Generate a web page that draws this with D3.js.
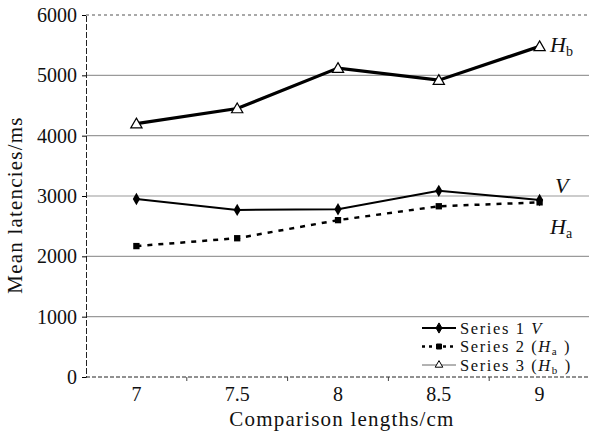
<!DOCTYPE html>
<html>
<head>
<meta charset="utf-8">
<script src="https://cdn.jsdelivr.net/npm/d3@7"></script>
<style>
  body { margin: 0; background: #fff; }
  text { font-family: "Times New Roman", "Liberation Serif", Tinos, serif; fill: #111; }
</style>
</head>
<body>
<div id="graph"></div>
<script>
// data
var lengths = ["7", "7.5", "8", "8.5", "9"];
var seriesV  = [2950, 2770, 2780, 3085, 2935];
var seriesHa = [2170, 2300, 2600, 2830, 2895];
var seriesHb = [4200, 4450, 5120, 4920, 5480];
var yTicks = [0, 1000, 2000, 3000, 4000, 5000, 6000];

var width = 589, height = 436;
var plotLeft = 86, plotRight = 590, plotTop = 15, plotBottom = 377;
var serif = '"Times New Roman", "Liberation Serif", Tinos, serif';

var svg = d3.select("#graph")
  .append("svg")
    .attr("width", width)
    .attr("height", height);

var x = d3.scalePoint()
  .domain(lengths)
  .range([plotLeft, plotRight])
  .padding(0.5);

var y = d3.scaleLinear()
  .domain([0, 6000])
  .range([plotBottom, plotTop]);

// grid lines
svg.selectAll(".grid")
  .data(yTicks.filter(function(d) { return d > 0; }))
  .enter()
  .append("line")
    .attr("x1", plotLeft)
    .attr("x2", plotRight)
    .attr("y1", function(d) { return y(d); })
    .attr("y2", function(d) { return y(d); })
    .style("stroke", function(d) { return d == 6000 ? "#555" : "#9a9a9a"; })
    .style("stroke-width", 1.2)
    .style("stroke-dasharray", function(d) { return d == 6000 ? "3,3" : null; });

// y axis
var yAxis = svg.append("g")
  .attr("transform", "translate(" + plotLeft + ",0)")
  .call(d3.axisLeft(y).tickValues(yTicks).tickSize(4).tickPadding(5).tickFormat(d3.format("d")));
yAxis.attr("font-family", serif);
yAxis.select(".domain").style("stroke", "#222").style("stroke-dasharray", "6,2");
yAxis.selectAll("text")
  .style("font-size", "20px")
  .style("font-family", serif)
  .style("fill", "#111");

// x axis, ticks at the category boundaries
svg.append("line")
  .attr("x1", plotLeft).attr("x2", plotRight)
  .attr("y1", plotBottom).attr("y2", plotBottom)
  .style("stroke", "#222")
  .style("stroke-dasharray", "4,2");
var step = x.step();
svg.selectAll(".xtick")
  .data(lengths.slice(0, -1))
  .enter()
  .append("line")
    .attr("x1", function(d) { return x(d) + step / 2; })
    .attr("x2", function(d) { return x(d) + step / 2; })
    .attr("y1", plotBottom)
    .attr("y2", plotBottom + 4)
    .style("stroke", "#444");
svg.selectAll(".xlabel")
  .data(lengths)
  .enter()
  .append("text")
    .attr("x", function(d) { return x(d); })
    .attr("y", 401)
    .attr("text-anchor", "middle")
    .style("font-size", "20px")
    .text(function(d) { return d; });

// axis titles
svg.append("text")
  .attr("x", 342)
  .attr("y", 426)
  .attr("text-anchor", "middle")
  .style("font-size", "21px")
  .style("letter-spacing", "1.2px")
  .text("Comparison lengths/cm");
svg.append("text")
  .attr("transform", "translate(22,205) rotate(-90)")
  .attr("text-anchor", "middle")
  .style("font-size", "21px")
  .style("letter-spacing", "1.2px")
  .text("Mean latencies/ms");

// lines
var line = d3.line()
  .x(function(d, i) { return x(lengths[i]); })
  .y(function(d) { return y(d); });

svg.append("path")
  .attr("d", line(seriesHa))
  .style("fill", "none")
  .style("stroke", "#000")
  .style("stroke-width", 2.5)
  .style("stroke-dasharray", "5,6");
svg.append("path")
  .attr("d", line(seriesV))
  .style("fill", "none")
  .style("stroke", "#000")
  .style("stroke-width", 2);
svg.append("path")
  .attr("d", line(seriesHb))
  .style("fill", "none")
  .style("stroke", "#000")
  .style("stroke-width", 3.2);

// markers
var diamond = d3.symbol().type(d3.symbolDiamond).size(45);
var square = d3.symbol().type(d3.symbolSquare).size(40);
var triangle = d3.symbol().type(d3.symbolTriangle).size(55);

svg.selectAll(".ha")
  .data(seriesHa)
  .enter()
  .append("path")
    .attr("d", square)
    .attr("transform", function(d, i) { return "translate(" + x(lengths[i]) + "," + y(d) + ")"; })
    .style("fill", "#000");
svg.selectAll(".v")
  .data(seriesV)
  .enter()
  .append("path")
    .attr("d", diamond)
    .attr("transform", function(d, i) { return "translate(" + x(lengths[i]) + "," + y(d) + ")"; })
    .style("fill", "#000");
svg.selectAll(".hb")
  .data(seriesHb)
  .enter()
  .append("path")
    .attr("d", triangle)
    .attr("transform", function(d, i) { return "translate(" + x(lengths[i]) + "," + (y(d) + 1) + ")"; })
    .style("fill", "#fff")
    .style("stroke", "#000")
    .style("stroke-width", 1.2);

// labels at line ends
function endLabel(xx, yy, main, sub) {
  var t = svg.append("text")
    .attr("x", xx).attr("y", yy)
    .style("font-size", "22px");
  t.append("tspan").style("font-style", "italic").text(main);
  if (sub) t.append("tspan").attr("dy", 4).style("font-size", "14px").text(sub);
}
endLabel(550, 52, "H", "b");
endLabel(555, 193, "V");
endLabel(550, 234, "H", "a");

// legend
var legend = svg.append("g");
legend.append("rect")
  .attr("x", 418).attr("y", 319)
  .attr("width", 171).attr("height", 56)
  .style("fill", "#fff");
var legendRows = [
  {dash: null, w: 2, color: "#000", sym: d3.symbol().type(d3.symbolDiamond).size(30), fill: "#000", main: "Series 1 ", it: "V"},
  {dash: "3,4", w: 2.5, color: "#000", sym: d3.symbol().type(d3.symbolSquare).size(25), fill: "#000", main: "Series 2 (", it: "H", sub: "a", end: ")"},
  {dash: null, w: 1, color: "#666", sym: d3.symbol().type(d3.symbolTriangle).size(25), fill: "#fff", main: "Series 3 (", it: "H", sub: "b", end: ")"}
];
legendRows.forEach(function(r, i) {
  var yy = 328 + i * 18.5;
  legend.append("line")
    .attr("x1", 422).attr("x2", 456)
    .attr("y1", yy).attr("y2", yy)
    .style("stroke", r.color)
    .style("stroke-width", r.w)
    .style("stroke-dasharray", r.dash);
  legend.append("path")
    .attr("d", r.sym)
    .attr("transform", "translate(439," + yy + ")")
    .style("fill", r.fill)
    .style("stroke", "#000")
    .style("stroke-width", 1);
  var t = legend.append("text")
    .attr("x", 460).attr("y", yy + 5.5)
    .style("font-size", "16.5px")
    .style("letter-spacing", "1.6px");
  t.append("tspan").text(r.main);
  t.append("tspan").style("font-style", "italic").text(r.it);
  if (r.sub) {
    t.append("tspan").attr("dy", 3).style("font-size", "11px").text(r.sub);
    t.append("tspan").attr("dy", -3).text(" " + r.end);
  }
});
</script>
</body>
</html>
